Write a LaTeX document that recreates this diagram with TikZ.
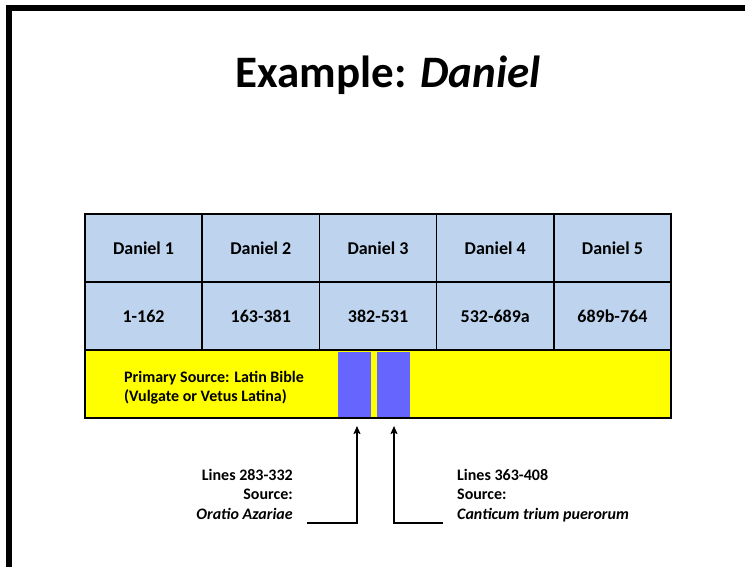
\documentclass[tikz,border=0pt]{standalone}
\usepackage{fontspec}
\setmainfont{Carlito}
\usetikzlibrary{arrows.meta}
\definecolor{cellblue}{RGB}{189,211,238}
\definecolor{srcyellow}{RGB}{255,255,0}
\definecolor{insblue}{RGB}{102,102,255}
\begin{document}
\begin{tikzpicture}[x=1pt,y=-1pt,
  cell/.style={draw=black, line width=1.6pt, fill=cellblue, minimum width=117.2pt, minimum height=68pt, inner sep=0pt, font=\fontsize{18}{21}\selectfont\bfseries},
  insert/.style={fill=insblue, draw=none, minimum width=33pt, minimum height=65pt, inner sep=0pt},
  lbl/.style={inner sep=0pt, font=\fontsize{16}{19.5}\selectfont\bfseries},
  arr/.style={line width=1.6pt, -{Stealth[length=8pt,width=7pt,inset=1.5pt]}, line join=miter}
]
\useasboundingbox (0,0) rectangle (745,567);
\fill[white] (0,0) rectangle (745,567);
% frame
\fill[black] (6,5) rectangle (745,11);
\fill[black] (6,5) rectangle (12,567);
% title
\node[inner sep=0pt, anchor=base, font=\fontsize{45}{50}\selectfont\bfseries] (title) at (388,88) {Example: \textit{Daniel}};
% header row
\node[cell] (d1) at (143.6,248) {Daniel 1};
\node[cell] (d2) at (260.8,248) {Daniel 2};
\node[cell] (d3) at (378.0,248) {Daniel 3};
\node[cell] (d4) at (495.2,248) {Daniel 4};
\node[cell] (d5) at (612.4,248) {Daniel 5};
% lines row
\node[cell] (l1) at (143.6,316) {1-162};
\node[cell] (l2) at (260.8,316) {163-381};
\node[cell] (l3) at (378.0,316) {382-531};
\node[cell] (l4) at (495.2,316) {532-689a};
\node[cell] (l5) at (612.4,316) {689b-764};
% source row
\node[fill=srcyellow, draw=none, minimum width=586pt, minimum height=68pt, inner sep=0pt] (src) at (378,384) {};
\node[insert] (b1) at (354.5,384) {};
\node[insert] (b2) at (393.5,384) {};
\draw[line width=1.6pt] (src.north west) rectangle (src.south east);
\node[lbl, anchor=north west, align=left] (srctext) at (124,371) {Primary Source: Latin Bible\\(Vulgate or Vetus Latina)};
% annotations
\node[lbl, anchor=north east, align=right] (noteL) at (293,469) {Lines 283-332\\Source:\\\textit{Oratio Azariae}};
\node[lbl, anchor=north west, align=left] (noteR) at (457,469) {Lines 363-408\\Source:\\\textit{Canticum trium puerorum}};
\coordinate (aL) at (307,523);
\coordinate (tL) at (357,426);
\coordinate (aR) at (443,523);
\coordinate (tR) at (394,426);
\draw[arr] (aL) -| (tL);
\draw[arr] (aR) -| (tR);
\end{tikzpicture}
\end{document}
